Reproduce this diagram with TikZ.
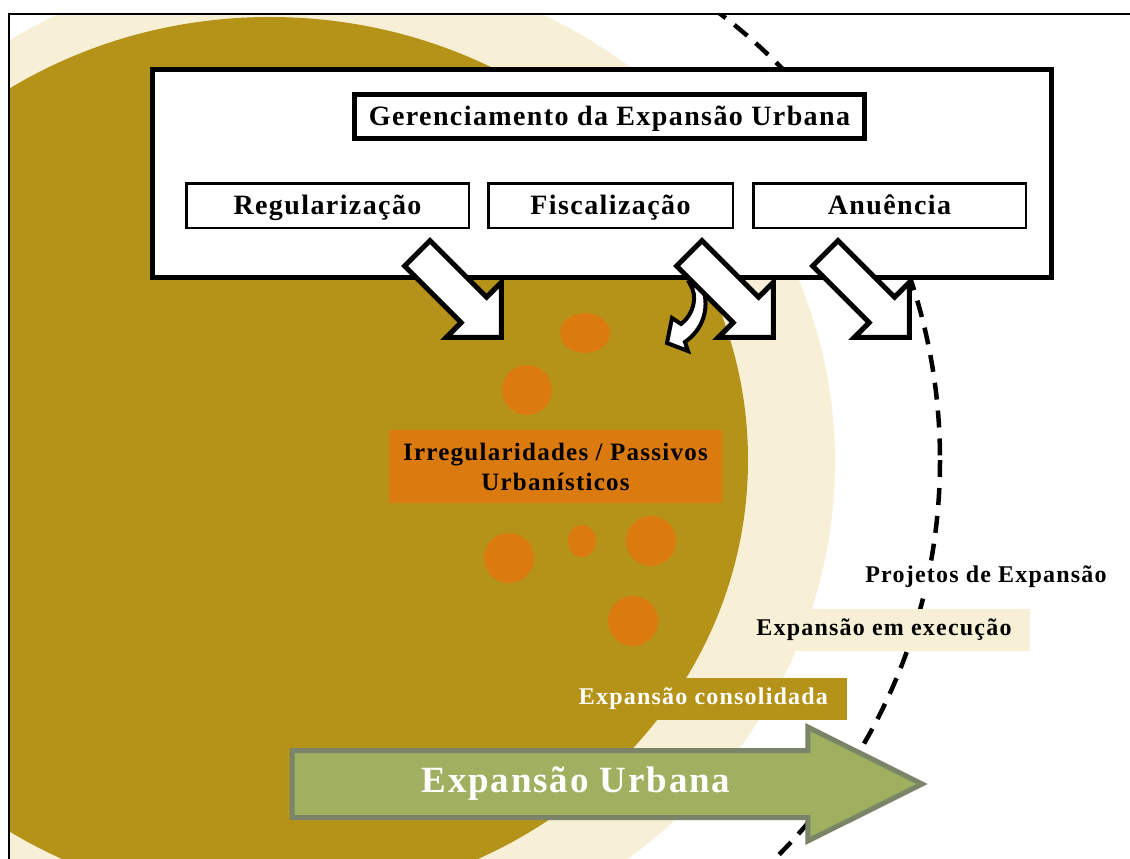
\documentclass[tikz,border=0pt]{standalone}
\usepackage{fontspec}
\setmainfont{Liberation Serif}
\newfontfamily\spacedserif[LetterSpace=5]{Liberation Serif}
\usetikzlibrary{shapes.arrows}
\definecolor{expolive}{RGB}{181,146,24}
\definecolor{expcream}{RGB}{248,240,214}
\definecolor{exporange}{RGB}{219,123,15}
\definecolor{expgreen}{RGB}{159,176,96}
\definecolor{expgreenline}{RGB}{122,132,104}

\begin{document}
\begin{tikzpicture}[x=1pt, y=-1pt,
    panel/.style={draw, line width=5pt, fill=white, inner sep=0pt},
    titlebox/.style={draw, line width=5pt, fill=white, inner sep=0pt, text depth=2pt, font=\fontsize{28}{30}\spacedserif\bfseries},
    taskbox/.style={draw, line width=2.5pt, fill=white, inner sep=0pt, text depth=2pt, minimum height=44.5, font=\fontsize{28}{30}\spacedserif\bfseries},
    flow/.style={single arrow, draw, fill=white, line width=5pt, inner xsep=0pt, inner ysep=15.5pt, minimum height=119, single arrow head extend=21, single arrow tip angle=90, rotate=-45},
    tag/.style={inner sep=0pt, font=\fontsize{24}{26}\spacedserif\bfseries},
    spot/.style={fill=exporange}
]
\useasboundingbox[fill=white] (0,0) rectangle (1130,859);

% growth rings
\begin{scope}
\clip (10,15) rectangle (1130,859);
\fill[expcream] (300,462) ellipse [x radius=535, y radius=502];
\fill[expolive] (270,460) ellipse [x radius=478, y radius=443];
\clip (500,15) rectangle (1130,859);
\draw[line width=4.5pt, dash pattern=on 17pt off 11pt] (400,460) ellipse [x radius=540, y radius=554];
\end{scope}

% irregular spots
\fill[spot] (585,333) ellipse [x radius=25, y radius=20];
\foreach \cx/\cy in {527/390, 509/558, 651/541, 633/621}
  \fill[spot] (\cx,\cy) circle [radius=25];
\fill[spot] (582,541) ellipse [x radius=14, y radius=16];

\node[fill=exporange, minimum width=333, minimum height=73, align=center, font=\fontsize{25}{30}\spacedserif\bfseries] (irreg) at (555.5,466.5) {Irregularidades / Passivos\\Urbanísticos};

\node[tag, fill=white, inner sep=2pt] (proj) at (986,577) {Projetos de Expansão};
\node[tag, fill=expcream, minimum width=292, minimum height=42] (exec) at (884,630) {Expansão em execução};
\node[tag, fill=expolive, text=white, minimum width=287, minimum height=42] (cons) at (703.5,699) {Expansão consolidada};

% management block
\node[panel, minimum width=899, minimum height=208] (mgmt) at (602,173.5) {};
\node[titlebox, minimum width=510, minimum height=44] (title) at (609.5,116.5) {Gerenciamento da Expansão Urbana};
\node[taskbox, minimum width=282.5] (reg) at (327.5,205.5) {Regularização};
\node[taskbox, minimum width=244.5] (fisc) at (610.5,205.5) {Fiscalização};
\node[taskbox, minimum width=272.5] (anu) at (889.5,205.5) {Anuência};

% curved arrow under fiscalizacao
\draw[line width=4pt, fill=white] (690,284) .. controls (698,296) and (694,314) .. (681,324)
  -- (672,318) -- (667,343) -- (688,351) -- (685,342)
  .. controls (702,330) and (710,310) .. (703,288) -- cycle;

\node[flow] (toreg) at (453,289) {};
\node[flow] (tofisc) at (725,289) {};
\node[flow] (toanu) at (861,289) {};

% expansion arrow
\node[single arrow, draw=expgreenline, fill=expgreen, line width=5pt, inner xsep=0pt, inner ysep=31pt, minimum height=630, single arrow head extend=23.5, single arrow tip angle=53] (urb) at (573.5,784) {};
\node[font=\fontsize{37}{40}\spacedserif\bfseries, text=white] (urbtxt) at (576,784) {Expansão Urbana};

\draw[line width=2.2pt] (9,859) -- (9,14) -- (1130,14);
\end{tikzpicture}
\end{document}
